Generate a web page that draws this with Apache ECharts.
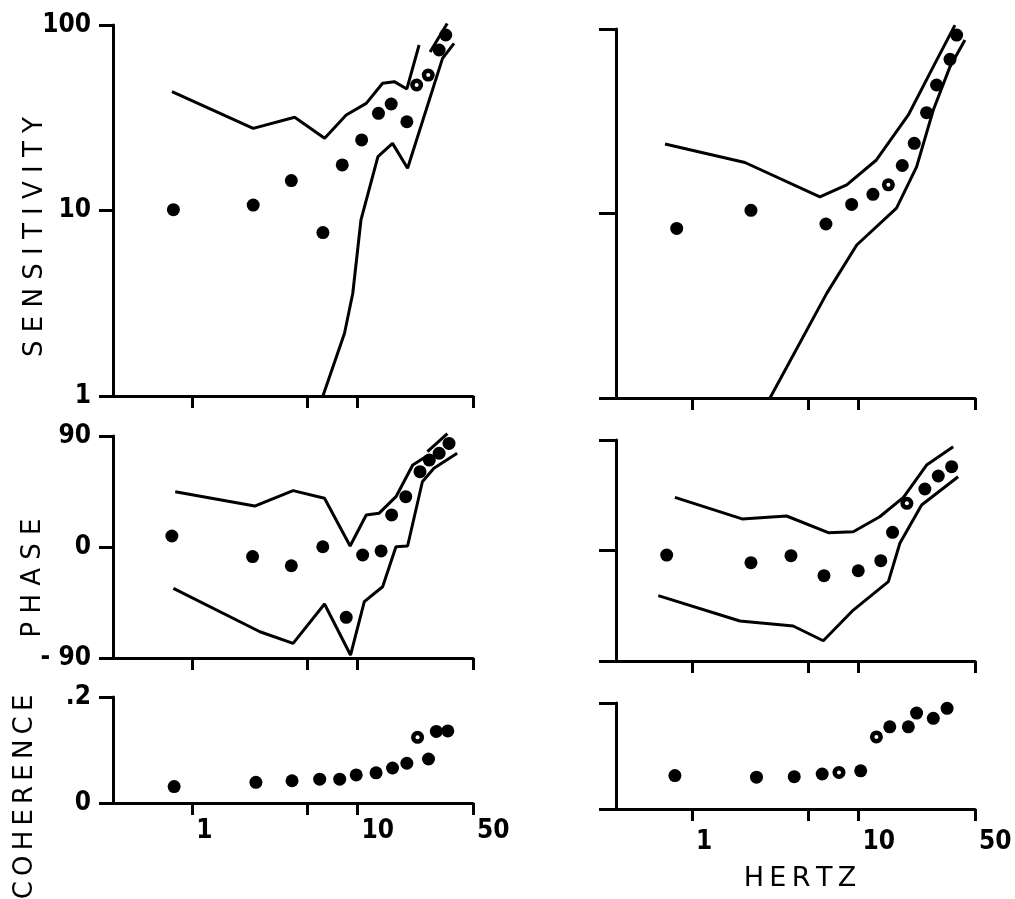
<!DOCTYPE html>
<html><head><meta charset="utf-8">
<script src="https://cdn.jsdelivr.net/npm/echarts@6/dist/echarts.min.js"></script>
<style>html,body{margin:0;padding:0;background:#fff}#c{width:1015px;height:899px}</style>
</head><body><div id="c"></div>
<script>
// ---------- DATA ----------
// x-axis (Hertz) tick and label values
const xTickValues = [1, 5, 10, 50];
const xLabelValues = [1, 10, 50];

// Left column: sensitivity
const sensL_dotF = [0.77, 2.34, 3.98, 6.18, 8.09, 10.6, 13.4, 16.0, 19.9, 22.8, 26.8, 31.2, 34.2];
const sensL_dotV = [10.1, 10.7, 14.5, 7.6, 17.6, 24, 33.4, 37.5, 30.1, 47.5, 53.7, 73.3, 88.3];
const sensL_upF = [0.755, 2.34, 4.17, 6.33, 8.55, 11.3, 14.2, 16.7, 19.9, 23.6];
const sensL_upV = [43.7, 27.7, 31.8, 24.5, 32.7, 37.8, 48.5, 49.5, 45.2, 78];
const sensL_tipF = [27.5, 34.9];
const sensL_tipV = [71.5, 102];
const sensL_loF = [6.18, 8.35, 9.37, 10.5, 13.3, 16.3, 20.1, 32.7, 38.4];
const sensL_loV = [1.0, 2.18, 3.58, 8.89, 19.5, 23, 16.9, 66.1, 79.6];

// Left column: phase
const phaseL_dotF = [0.754, 2.32, 3.98, 6.17, 8.55, 10.75, 13.9, 16.1, 19.6, 23.9, 27.2, 31.2, 35.8];
const phaseL_dotV = [8.9, -7.8, -15.2, 0.2, -57, -6.5, -3.2, 26, 40.8, 61.1, 70.5, 76, 84];
const phaseL_upF = [0.79, 2.39, 4.08, 6.32, 9.03, 11.3, 13.5, 17.1, 21.6, 25.9];
const phaseL_upV = [44.8, 33.2, 45.7, 39.5, 0.8, 25.9, 27.3, 40.8, 66.5, 73.2];
const phaseL_tipF = [26.5, 35];
const phaseL_tipV = [77.3, 92];
const phaseL_loF = [0.77, 2.57, 4.08, 6.32, 9.08, 11.0, 14.2, 17.1, 20.1, 24.7, 29, 40.1];
const phaseL_loV = [-33.5, -68.7, -78.1, -46.2, -87.6, -44.3, -32.2, 0.2, 0.8, 52.9, 63.8, 76];

// Left column: coherence
const coherL_F = [0.778, 2.43, 4.02, 5.91, 7.81, 9.83, 12.96, 16.3, 19.9, 23.1, 26.9, 30.0, 35.2];
const coherL_V = [0.031, 0.039, 0.042, 0.045, 0.045, 0.053, 0.057, 0.066, 0.075, 0.124, 0.083, 0.135, 0.136];

// Right column: sensitivity
const sensR_dotF = [0.81, 2.26, 6.37, 9.09, 12.2, 15.1, 18.3, 21.6, 25.6, 29.4, 35.4, 38.8];
const sensR_dotV = [8.3, 10.4, 8.77, 11.2, 12.7, 14.3, 18.2, 24, 35.2, 49.7, 68.5, 92.7];
const sensR_upF = [0.689, 2.08, 5.86, 8.49, 12.8, 19.9, 28.1, 37.9];
const sensR_upV = [23.8, 18.9, 12.3, 14.3, 19.5, 34.2, 62.5, 105];
const sensR_loF = [2.94, 6.44, 9.75, 16.9, 22.3, 28.1, 35.4, 43.5];
const sensR_loV = [1, 3.69, 6.75, 10.7, 17.9, 36.4, 62.5, 87.1];

// Right column: phase
const phaseR_dotF = [0.705, 2.26, 3.93, 6.2, 9.96, 13.6, 16.0, 19.5, 25.0, 30.1, 36.2];
const phaseR_dotV = [-3.7, -9.9, -4.2, -20.5, -16.5, -8.3, 14.8, 38.4, 50.1, 60.7, 68.3];
const phaseR_upF = [0.79, 2.0, 3.7, 6.58, 9.3, 13.4, 18.6, 25.6, 37];
const phaseR_upV = [43.3, 25.7, 28.1, 14.5, 15.3, 27.5, 43.3, 69.6, 84.5];
const phaseR_loF = [0.628, 1.94, 4.05, 6.14, 9.3, 15.1, 17.7, 23.9, 39.6];
const phaseR_loV = [-36.8, -57.4, -61.5, -73.5, -48.5, -25.4, 5.9, 37.1, 60.1];

// Right column: coherence
const coherR_F = [0.79, 2.44, 4.11, 6.05, 7.63, 10.3, 12.8, 15.4, 19.9, 22.3, 28.1, 34];
const coherR_V = [0.063, 0.060, 0.061, 0.066, 0.069, 0.072, 0.136, 0.155, 0.155, 0.181, 0.171, 0.19];

// ---------- STYLE ----------
const openMarkers = { sensL: [9, 10], sensR: [5], phaseR: [7], coherL: [9], coherR: [6, 4] };
const TICK_FONT = "'Liberation Sans Narrow','DejaVu Sans Condensed','Liberation Sans',sans-serif";
const TITLE_FONT = "'DejaVu Sans',sans-serif";
const BLACK = '#000';

const grids = [
  {left: 113, top: 25, width: 360, height: 371},
  {left: 113, top: 436, width: 360, height: 222},
  {left: 113, top: 697, width: 360, height: 106},
  {left: 616, top: 29, width: 359, height: 369},
  {left: 616, top: 440, width: 359, height: 221},
  {left: 616, top: 703, width: 359, height: 106}
];
const xMins = [0.332, 0.332, 0.332, 0.35, 0.35, 0.35];

function xAx(gi, showLabels, margin) {
  return {
    type: 'log', logBase: 10, gridIndex: gi, min: xMins[gi], max: 50,
    axisLine: {show: true, onZero: false, lineStyle: {color: BLACK, width: 3}},
    axisTick: {show: true, inside: false, length: 12, customValues: xTickValues, lineStyle: {color: BLACK, width: 3}},
    axisLabel: {show: showLabels, customValues: xLabelValues, margin: margin, align: 'left', padding: [0, 0, 0, 4],
      color: BLACK, fontSize: 26, fontWeight: 'bold', fontFamily: TICK_FONT, formatter: v => String(Math.round(v))},
    splitLine: {show: false}, minorTick: {show: false}, minorSplitLine: {show: false}
  };
}
function yBase(gi, showLabels, tickLen) {
  return {
    gridIndex: gi,
    axisLine: {show: true, onZero: false, lineStyle: {color: BLACK, width: 3}},
    axisTick: {show: true, inside: false, length: tickLen, lineStyle: {color: BLACK, width: 3}},
    axisLabel: {show: showLabels, margin: 22, color: BLACK, fontSize: 26, fontWeight: 'bold', fontFamily: TICK_FONT},
    splitLine: {show: false}, minorTick: {show: false}
  };
}
function ySens(gi, show, tl) {
  const a = yBase(gi, show, tl);
  a.type = 'log'; a.logBase = 10; a.min = 1; a.max = 100;
  a.axisLabel.formatter = v => String(Math.round(v));
  return a;
}
function yPhase(gi, show, tl) {
  const a = yBase(gi, show, tl);
  a.type = 'value'; a.min = -90; a.max = 90; a.interval = 90;
  a.axisLabel.formatter = v => (v === -90 ? '- 90' : String(v));
  return a;
}
function yCoher(gi, show, tl) {
  const a = yBase(gi, show, tl);
  a.type = 'value'; a.min = 0; a.max = 0.2; a.interval = 0.2;
  a.axisLabel.formatter = v => (v > 0.1 ? '.2' : '0');
  return a;
}

function pairs(xs, ys) { return xs.map((x, i) => [x, ys[i]]); }
function line(gi, xs, ys) {
  return {type: 'line', xAxisIndex: gi, yAxisIndex: gi, data: pairs(xs, ys), symbol: 'none', showSymbol: false,
    clip: false, lineStyle: {color: BLACK, width: 3}, silent: true, animation: false, z: 2};
}
function dots(gi, xs, ys) {
  return {type: 'scatter', xAxisIndex: gi, yAxisIndex: gi, symbolSize: 13, animation: false, z: 3,
    itemStyle: {color: BLACK, opacity: 1}, data: pairs(xs, ys)};
}
// small white centres for the "open" markers drawn on top of the filled dots
function centres(gi, xs, ys, open) {
  return {type: 'scatter', xAxisIndex: gi, yAxisIndex: gi, symbolSize: 4, animation: false, z: 4, silent: true,
    itemStyle: {color: '#fff', opacity: 1}, data: open.map(i => [xs[i], ys[i]])};
}
function spaced(s, sep) { return s.split('').join(sep); }

const chart = echarts.init(document.getElementById('c'), null, {renderer: 'canvas'});
chart.setOption({
  backgroundColor: '#fff',
  animation: false,
  grid: grids,
  xAxis: [xAx(0, false, 16), xAx(1, false, 16), xAx(2, true, 15), xAx(3, false, 20), xAx(4, false, 20), xAx(5, true, 20)],
  yAxis: [ySens(0, true, 14), yPhase(1, true, 14), yCoher(2, true, 14), ySens(3, false, 17), yPhase(4, false, 17), yCoher(5, false, 17)],
  series: [
    line(0, sensL_upF, sensL_upV), line(0, sensL_tipF, sensL_tipV), line(0, sensL_loF, sensL_loV),
    dots(0, sensL_dotF, sensL_dotV), centres(0, sensL_dotF, sensL_dotV, openMarkers.sensL),
    line(1, phaseL_upF, phaseL_upV), line(1, phaseL_tipF, phaseL_tipV), line(1, phaseL_loF, phaseL_loV),
    dots(1, phaseL_dotF, phaseL_dotV),
    dots(2, coherL_F, coherL_V), centres(2, coherL_F, coherL_V, openMarkers.coherL),
    line(3, sensR_upF, sensR_upV), line(3, sensR_loF, sensR_loV),
    dots(3, sensR_dotF, sensR_dotV), centres(3, sensR_dotF, sensR_dotV, openMarkers.sensR),
    line(4, phaseR_upF, phaseR_upV), line(4, phaseR_loF, phaseR_loV),
    dots(4, phaseR_dotF, phaseR_dotV), centres(4, phaseR_dotF, phaseR_dotV, openMarkers.phaseR),
    dots(5, coherR_F, coherR_V), centres(5, coherR_F, coherR_V, openMarkers.coherR)
  ],
  graphic: [
    {type: 'text', x: 35, y: 237, rotation: Math.PI / 2, style: {text: spaced('SENSITIVITY', ' '), fill: BLACK, font: '26px ' + TITLE_FONT, align: 'center', verticalAlign: 'middle'}},
    {type: 'text', x: 33, y: 578, rotation: Math.PI / 2, style: {text: spaced('PHASE', ' '), fill: BLACK, font: '26px ' + TITLE_FONT, align: 'center', verticalAlign: 'middle'}},
    {type: 'text', x: 25, y: 797, rotation: Math.PI / 2, style: {text: spaced('COHERENCE', '\u2009'), fill: BLACK, font: '26px ' + TITLE_FONT, align: 'center', verticalAlign: 'middle'}},
    {type: 'text', x: 800, y: 879, style: {text: spaced('HERTZ', '\u2009'), fill: BLACK, font: '27px ' + TITLE_FONT, align: 'center', verticalAlign: 'middle'}}
  ]
});
</script></body></html>
